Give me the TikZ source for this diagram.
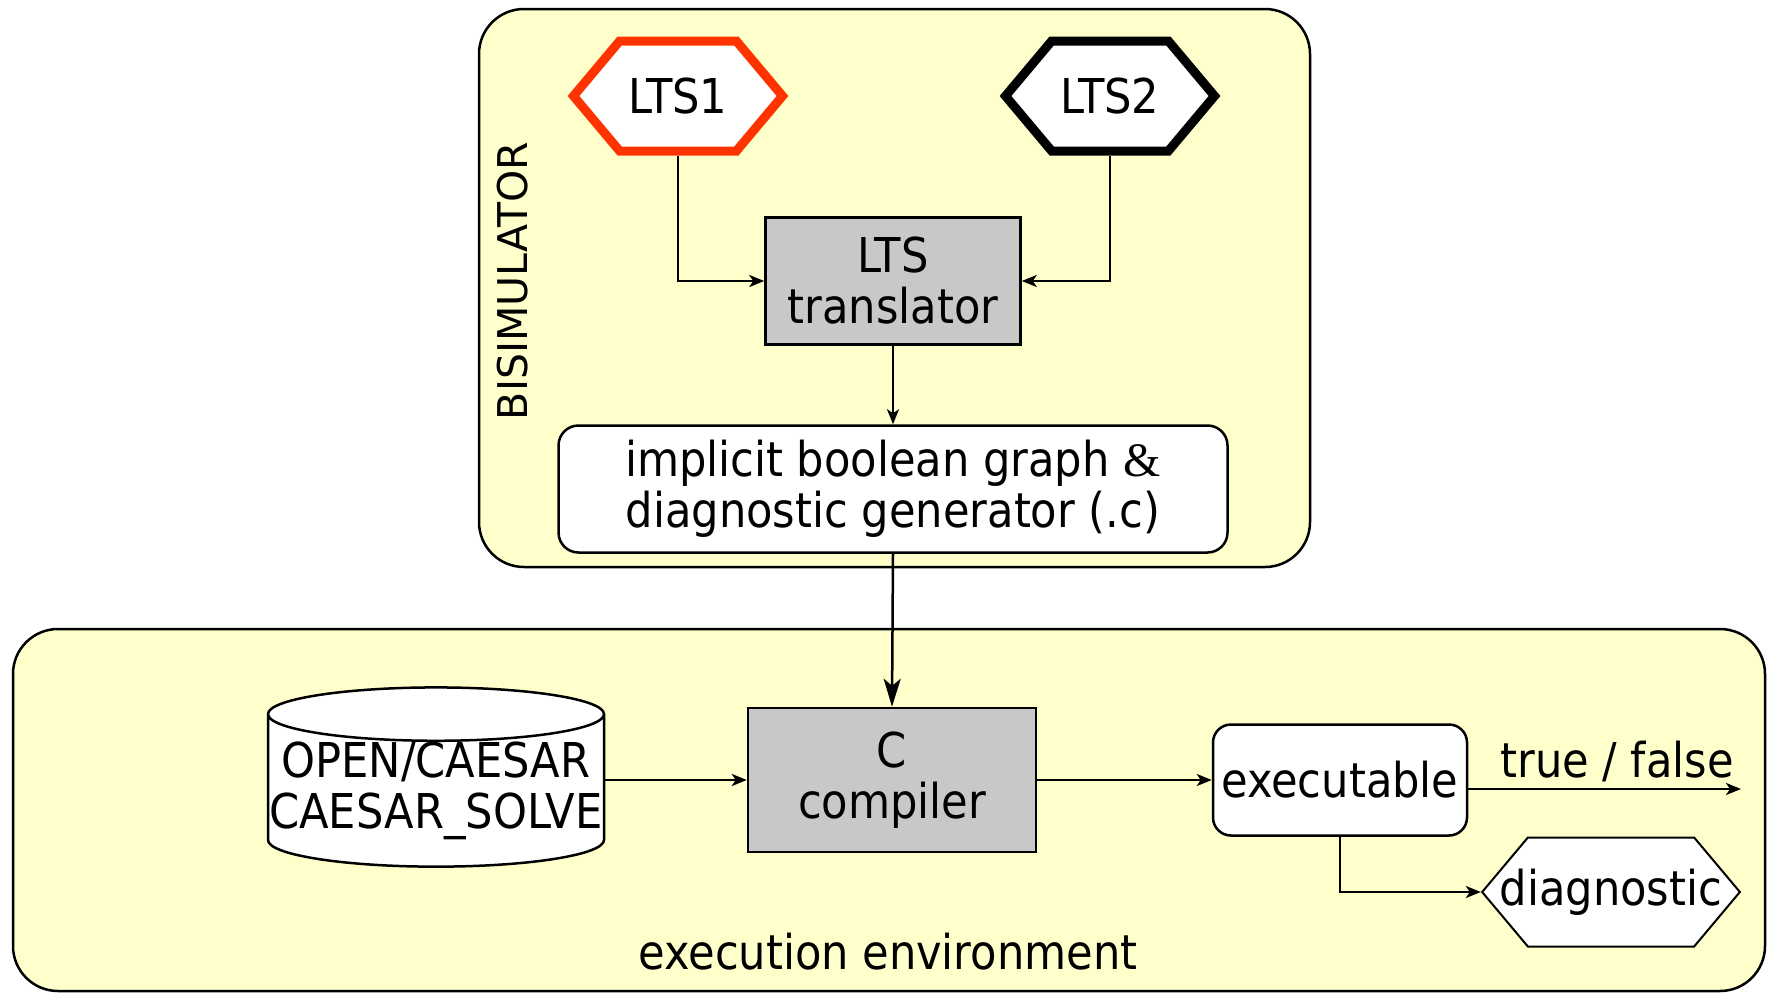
\documentclass[tikz,border=0pt]{standalone}
\usepackage{fontspec}
\setmainfont{DejaVu Sans Condensed}
\newfontfamily\ampfont{Liberation Serif}
\newfontfamily\widefont{DejaVu Sans}
\usetikzlibrary{shapes.geometric, shapes.symbols, arrows.meta, positioning}

\definecolor{panelyellow}{HTML}{FFFFCC}
\definecolor{boxgray}{HTML}{C8C8C8}
\definecolor{ltsred}{HTML}{FF3300}

\begin{document}
\begin{tikzpicture}[
			x=1pt, y=-1pt,
			every node/.style={font=\fontsize{48}{51}\selectfont, align=center},
			panel/.style={draw, line width=2.5pt, fill=panelyellow, rounded corners=45pt},
			toolbox/.style={draw, line width=2.5pt, fill=boxgray, rectangle, inner sep=0pt},
			roundbox/.style={draw, line width=2.5pt, fill=white, rectangle, rounded corners=20pt, inner sep=0pt},
			hexa/.style={signal, signal to=east and west, signal pointer angle=100, draw, fill=white, inner sep=0pt},
			store/.style={cylinder, shape border rotate=90, aspect=0.16, draw, line width=2.5pt, fill=white, inner sep=0pt},
			arrow/.style={-{Stealth[length=15pt, width=12pt, inset=4pt]}, line width=2.5pt},
			bigarrow/.style={-{Stealth[length=28pt, width=17pt, inset=7pt]}, line width=2.5pt}
			]
			\useasboundingbox (0,0) rectangle (1767,993);
			
			% Panels
			\draw [panel] (479,9) rectangle (1310,567);
			\draw [panel] (13,629) rectangle (1765,991);
			\node (bisim) [rotate=90, font=\widefont\fontsize{41}{41}\selectfont] at (513,281) {BISIMULATOR};
			\node (envlabel) at (888,952) {execution environment};
			
			% Nodes
			\node (lts1) [hexa, draw=ltsred, line width=9pt, minimum width=209pt, minimum height=110pt] at (678,96) {LTS1};
			\node (lts2) [hexa, line width=9pt, minimum width=209pt, minimum height=110pt] at (1110,96) {LTS2};
			\node (translator) [toolbox, minimum width=255pt, minimum height=127pt] at (893,281) {LTS\\translator};
			\node (implicit) [roundbox, minimum width=669pt, minimum height=127pt] at (893,489) {implicit boolean graph {\ampfont\&}\\diagnostic generator (.c)};
			\node (solver) [store, minimum width=336pt, minimum height=176pt] at (436,791) {OPEN/CAESAR\\CAESAR\_SOLVE};
			\node (compiler) [toolbox, minimum width=288pt, minimum height=144pt] at (892,780) {C\\compiler};
			\node (exec) [roundbox, rounded corners=18pt, minimum width=254pt, minimum height=111pt] at (1340,780) {executable};
			\node (diag) [hexa, line width=2pt, inner xsep=-28pt, minimum width=254pt, minimum height=109pt] at (1611,892) {diagnostic};
			\coordinate (verdict) at (1741,789);
			\node (verdictlabel) at (1617,761) {true / false};
			
			% Connections
			\draw [arrow] (lts1.south) |- (translator.west);
			\draw [arrow] (lts2.south) |- (translator.east);
			\draw [arrow] (translator) -- (implicit);
			\draw [bigarrow] (implicit.south) -- (compiler.north);
			\draw [arrow] (solver.east |- compiler.west) -- (compiler.west);
			\draw [arrow] (compiler) -- (exec);
			\draw [arrow] (exec.east |- verdict) -- (verdict);
			\draw [arrow] (exec.south) |- (diag.west);
			
		\end{tikzpicture}
\end{document}
